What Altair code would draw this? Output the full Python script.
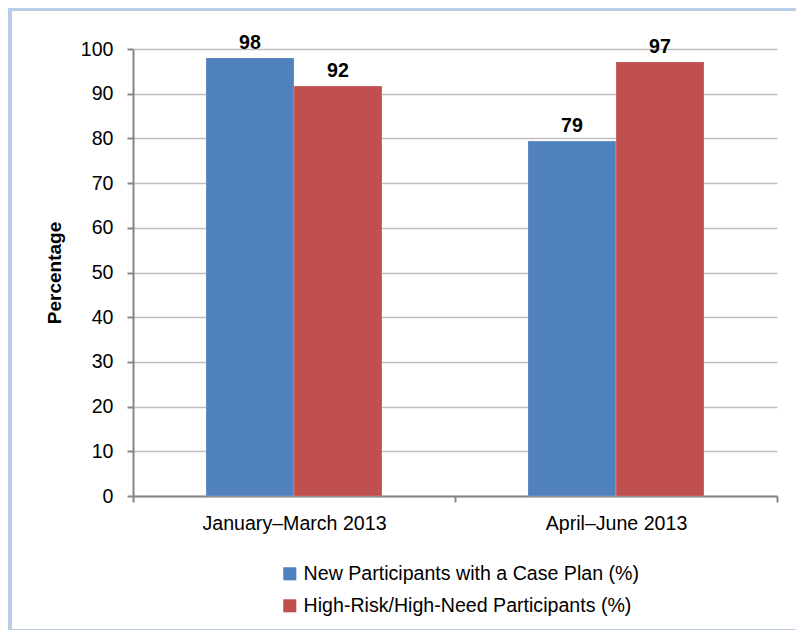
import altair as alt
import pandas as pd

periods = ["January–March 2013", "April–June 2013"]
series = ["New Participants with a Case Plan (%)", "High-Risk/High-Need Participants (%)"]
new_with_plan = [98.0, 79.4]
high_risk = [91.7, 97.1]
colors = ["#4F81BD", "#C0504D"]

rows = []
for i, p in enumerate(periods):
    rows.append({"period": p, "series": series[0], "value": new_with_plan[i]})
    rows.append({"period": p, "series": series[1], "value": high_risk[i]})
df = pd.DataFrame(rows)

FONT = "Liberation Sans"
FS = 19.6

x_enc = alt.X("period:N", sort=periods, title=None,
              scale=alt.Scale(paddingInner=0, paddingOuter=0),
              axis=alt.Axis(labelAngle=0, labelFontSize=FS, labelColor="#000000",
                            labelPadding=12, labelLimit=400, domainColor="#868686", domainWidth=2,
                            tickColor="#868686", tickWidth=2, tickSize=6,
                            tickBand="extent", grid=False, labelFont=FONT))
xoff = alt.XOffset("series:N", sort=series,
                   scale=alt.Scale(paddingInner=0, paddingOuter=0.8295))

bars = alt.Chart(df).mark_bar(stroke="white", strokeWidth=0.5, strokeOpacity=0.4).encode(
    x=x_enc,
    xOffset=xoff,
    y=alt.Y("value:Q", title="Percentage",
            scale=alt.Scale(domain=[0, 100], nice=False),
            axis=alt.Axis(values=list(range(0, 101, 10)), labelFontSize=FS,
                          labelColor="#000000", labelPadding=14, labelFont=FONT,
                          domainColor="#868686", domainWidth=2,
                          tickColor="#868686", tickWidth=2, tickSize=6,
                          gridColor="#BFBFBF", gridWidth=1.5,
                          titleFontSize=19, titleFontWeight="bold", titleFont=FONT,
                          titleColor="#000000", titlePadding=16)),
    color=alt.Color("series:N", sort=series,
                    scale=alt.Scale(domain=series, range=colors),
                    legend=alt.Legend(title=None, orient="none", legendX=147, legendY=515,
                                      direction="vertical", symbolType="square",
                                      symbolSize=170, symbolStrokeWidth=0,
                                      labelFontSize=FS, labelFont=FONT, labelColor="#000000",
                                      rowPadding=11, labelOffset=4, labelLimit=500)),
)

labels = alt.Chart(df).mark_text(fontSize=FS, fontWeight="bold", font=FONT,
                                 baseline="alphabetic", dy=-9, color="#000000").encode(
    x=alt.X("period:N", sort=periods),
    xOffset=xoff,
    y="value:Q",
    text=alt.Text("value:Q", format=".0f"),
)

frame = alt.Chart(alt.Data(values=[{}])).mark_rect(
    fill="transparent", stroke="#B9CDE5", strokeWidth=4).encode(
    x=alt.value(-123), x2=alt.value(700), y=alt.value(-40), y2=alt.value(582))

chart = alt.layer(frame, bars, labels).properties(
    width=644, height=447,
    padding={"left": 125, "top": 41, "right": 19, "bottom": 134},
    autosize=alt.AutoSizeParams(type="none"),
    background="white",
).configure_view(stroke=None)

chart.save("out.html", embed_options={"renderer": "svg", "actions": False})
